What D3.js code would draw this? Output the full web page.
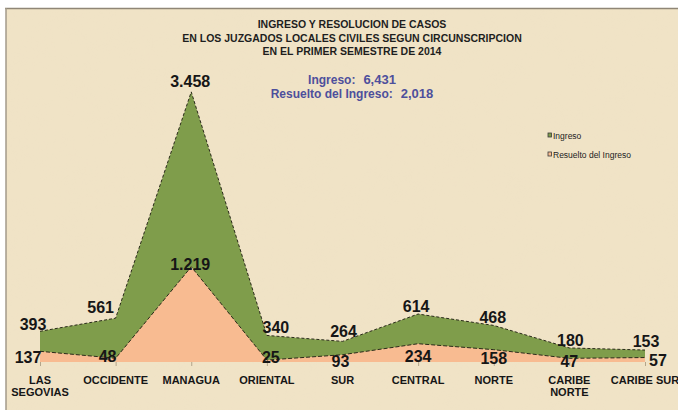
<!DOCTYPE html>
<html>
<head>
<meta charset="utf-8">
<script src="https://cdn.jsdelivr.net/npm/d3@7"></script>
<style>
  body { margin: 0; background: #fff; }
  svg { display: block; font-family: "Liberation Sans", Arial, sans-serif; }
</style>
</head>
<body>
<svg id="chart" width="678" height="410"></svg>
<script>
// data
const categories = ['LAS\nSEGOVIAS', 'OCCIDENTE', 'MANAGUA', 'ORIENTAL', 'SUR', 'CENTRAL', 'NORTE', 'CARIBE\nNORTE', 'CARIBE SUR'];
const ingreso = [393, 561, 3458, 340, 264, 614, 468, 180, 153];
const resuelto = [137, 48, 1219, 25, 93, 234, 158, 47, 57];
const ingresoText = ['393', '561', '3.458', '340', '264', '614', '468', '180', '153'];
const resueltoText = ['137', '48', '1.219', '25', '93', '234', '158', '47', '57'];
const titleLines = ['INGRESO Y RESOLUCION DE CASOS', 'EN LOS JUZGADOS LOCALES CIVILES SEGUN CIRCUNSCRIPCION', 'EN EL PRIMER SEMESTRE DE 2014'];
const totals = [['Ingreso:', '6,431'], ['Resuelto del Ingreso:', '2,018']];
const seriesNames = ['Ingreso', 'Resuelto del Ingreso'];

// label nudges (px), the old chart placed them by hand
const ingDx = [-7, -15, -1, 9, 1, -2, -1, 1, 1];
const ingDy = [-1, -5, -5, -2, -4, -2, -2, -2, -3];
const resDx = [-12, -8, -1, 4, -2, 0, 0, 0, 13];
const resDy = [12, 4, 3, 3, 12, 18, 14, 9, 8];

const green = '#7f9d4b', peach = '#f8bb91', ink = '#161616';

const svg = d3.select('#chart');

// paper background
const defs = svg.append('defs');
const f = defs.append('filter').attr('id', 'paper').attr('x', 0).attr('y', 0).attr('width', 1).attr('height', 1);
f.append('feTurbulence').attr('type', 'fractalNoise').attr('baseFrequency', 0.03).attr('numOctaves', 3).attr('seed', 7);
f.append('feColorMatrix').attr('type', 'matrix')
  .attr('values', '0 0 0 0 0.86  0 0 0 0 0.76  0 0 0 0 0.56  1.2 0 0 0 -0.45');

svg.append('rect').attr('x', 6).attr('y', 8).attr('width', 672).attr('height', 402).attr('fill', '#f0e3c6');
svg.append('rect').attr('x', 6).attr('y', 8).attr('width', 672).attr('height', 402)
  .attr('filter', 'url(#paper)').attr('opacity', 0.3);
svg.append('line').attr('x1', 5).attr('x2', 678).attr('y1', 8.5).attr('y2', 8.5).attr('stroke', '#8f8676').attr('stroke-width', 1.5);
svg.append('line').attr('x1', 6).attr('x2', 6).attr('y1', 8).attr('y2', 410).attr('stroke', '#a39a8a').attr('stroke-width', 1.5);

const x = d3.scalePoint().domain(d3.range(categories.length)).range([40, 645]);
const y = d3.scaleLinear().domain([0, 3500]).range([362, 88.6]);

const area = vals => d3.area()
  .x((d, i) => x(i))
  .y0(y(0))
  .y1(d => y(d))(vals);
const line = d3.line().x((d, i) => x(i)).y(d => y(d));

svg.append('path').attr('d', area(ingreso)).attr('fill', green);
svg.append('path').attr('d', line(ingreso)).attr('fill', 'none')
  .attr('stroke', '#2a2a1a').attr('stroke-width', 1).attr('stroke-dasharray', '3,2');
svg.append('path').attr('d', area(resuelto)).attr('fill', peach);
svg.append('path').attr('d', line(resuelto)).attr('fill', 'none')
  .attr('stroke', '#2a2a1a').attr('stroke-width', 1).attr('stroke-dasharray', '4,2');

// category axis
const xAxis = svg.append('g')
  .attr('transform', `translate(0, ${y(0)})`)
  .call(d3.axisBottom(x).tickSize(4).tickFormat(''));
xAxis.select('.domain').remove();
xAxis.selectAll('.tick line').attr('stroke', '#b3a58a');

svg.append('g').selectAll('text')
  .data(categories)
  .join('text')
  .attr('x', (d, i) => x(i))
  .attr('y', 384)
  .attr('text-anchor', 'middle')
  .attr('font-size', 11)
  .attr('font-weight', 'bold')
  .attr('fill', ink)
  .each(function (d) {
    const t = d3.select(this);
    d.split('\n').forEach((s, k) => {
      t.append('tspan').attr('x', t.attr('x')).attr('dy', k ? 12 : 0).text(s);
    });
  });

// value labels
const lbl = svg.append('g').attr('font-size', 16).attr('font-weight', 'bold')
  .attr('fill', ink).attr('text-anchor', 'middle');
lbl.selectAll('.ing').data(ingreso).join('text').attr('class', 'ing')
  .attr('x', (d, i) => x(i) + ingDx[i])
  .attr('y', (d, i) => y(d) + ingDy[i])
  .text((d, i) => ingresoText[i]);
lbl.selectAll('.res').data(resuelto).join('text').attr('class', 'res')
  .attr('x', (d, i) => x(i) + resDx[i])
  .attr('y', (d, i) => y(d) + resDy[i])
  .text((d, i) => resueltoText[i]);

// title
svg.append('g').selectAll('text').data(titleLines).join('text')
  .attr('x', 352)
  .attr('y', (d, i) => 28 + i * 13.5)
  .attr('text-anchor', 'middle')
  .attr('font-size', 10.5)
  .attr('font-weight', 'bold')
  .attr('fill', '#1e1e1e')
  .text(d => d);

// totals
svg.append('g').selectAll('text').data(totals).join('text')
  .attr('x', 352)
  .attr('y', (d, i) => 84 + i * 14)
  .attr('text-anchor', 'middle')
  .attr('font-size', 12)
  .attr('font-weight', 'bold')
  .attr('fill', '#4d4f9c')
  .each(function (d) {
    const t = d3.select(this);
    t.append('tspan').text(d[0]);
    t.append('tspan').attr('dx', 8).attr('font-size', 13).text(d[1]);
  });

// legend
const leg = svg.append('g').attr('transform', 'translate(548, 136)');
seriesNames.forEach((n, i) => {
  const g = leg.append('g').attr('transform', `translate(0, ${i * 19})`);
  g.append('rect').attr('x', 0).attr('y', -3).attr('width', 3.5).attr('height', 4)
    .attr('fill', i ? peach : green).attr('stroke', '#3a3a3a').attr('stroke-width', 0.8);
  g.append('text').attr('x', 5).attr('y', 2.5).attr('font-size', 8.5)
    .attr('fill', '#222').text(n);
});
</script>
</body>
</html>
